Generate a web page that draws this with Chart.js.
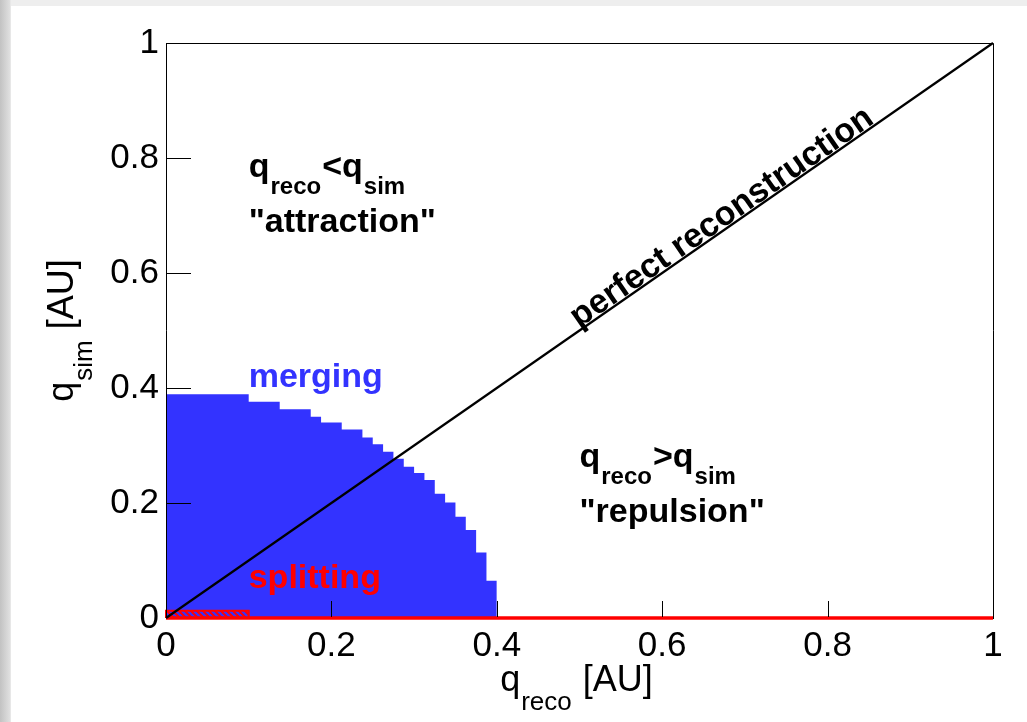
<!DOCTYPE html>
<html>
<head>
<meta charset="utf-8">
<script src="https://cdn.jsdelivr.net/npm/chart.js@4.4.1/dist/chart.umd.min.js"></script>
<style>
  html, body { margin: 0; padding: 0; width: 1027px; height: 722px; overflow: hidden;
    background: linear-gradient(to right, #c2c2c2 0px, #e0e0e0 10px, #eeeeee 11px, #eeeeee 100%); }
  #panel { position: absolute; left: 11px; top: 6px; right: 0; bottom: 0; background: #ffffff; }
  #c { position: absolute; left: 0; top: 0; }
</style>
</head>
<body>
<div id="panel"></div>
<canvas id="c" width="1027" height="722"></canvas>
<script>
// Axis tick labels
const xTickLabels = ['0', '0.2', '0.4', '0.6', '0.8', '1'];
const yTickLabels = ['0', '0.2', '0.4', '0.6', '0.8', '1'];

// "merging" region: bin edges along q_reco and the q_sim height of each step
const mergeEdges = [0, 0.1, 0.1375, 0.175, 0.1875, 0.2125, 0.2375, 0.25, 0.2625, 0.275,
                    0.2875, 0.3, 0.3125, 0.325, 0.3375, 0.35, 0.3625, 0.375, 0.3875, 0.4];
const mergeHeights = [0.389, 0.376, 0.363, 0.35, 0.34, 0.328, 0.314, 0.302, 0.289, 0.277,
                      0.263, 0.252, 0.24, 0.216, 0.201, 0.176, 0.153, 0.114, 0.065];

// "splitting" region: a thin band along q_sim = 0
const splitEdges = [0, 0.1];
const splitHeight = 0.0125;

// Reference lines
const diagX = [0, 1];
const diagY = [0, 1];
const baseX = [0, 1];
const baseY = [0, 0];

const BLUE = '#3333ff';
const RED = '#ff0000';
const FONT = '"Liberation Sans", Arial, Helvetica, sans-serif';

// Points of the stepped outline (value holds until the next edge)
const mergePoints = mergeEdges.map((x, i) => ({ x, y: i < mergeHeights.length ? mergeHeights[i] : 0 }));
const splitPoints = [
  { x: splitEdges[0], y: 0 }, { x: splitEdges[0], y: splitHeight },
  { x: splitEdges[1], y: splitHeight }, { x: splitEdges[1], y: 0 }
];
const diagPoints = diagX.map((x, i) => ({ x, y: diagY[i] }));
const basePoints = baseX.map((x, i) => ({ x, y: baseY[i] }));

// Red "\" hatch for the splitting band
const hatch = document.getElementById('c').getContext('2d').createPattern((() => {
  const t = document.createElement('canvas'); t.width = 6; t.height = 6;
  const g = t.getContext('2d');
  g.strokeStyle = RED; g.lineWidth = 2; g.beginPath();
  g.moveTo(-1, -1); g.lineTo(7, 7); g.moveTo(-7, -1); g.lineTo(1, 7); g.moveTo(5, -1); g.lineTo(13, 7);
  g.stroke(); return t;
})(), 'repeat');

// Text with subscripts: parts are [text, isSub]
function drawRich(ctx, parts, x, y, opt) {
  const mainFont = `${opt.weight} ${opt.size}px ${FONT}`;
  const subFont = `${opt.weight} ${opt.subSize}px ${FONT}`;
  let w = 0;
  parts.forEach(([t, sub]) => { ctx.font = sub ? subFont : mainFont; w += ctx.measureText(t).width + (sub ? 2 : 0); });
  let cx = opt.align === 'center' ? x - w / 2 : x;
  ctx.textAlign = 'left';
  ctx.textBaseline = 'alphabetic';
  ctx.fillStyle = opt.color;
  parts.forEach(([t, sub]) => {
    ctx.font = sub ? subFont : mainFont;
    if (sub) cx += 1;
    ctx.fillText(t, cx, y + (sub ? opt.subDy : 0));
    cx += ctx.measureText(t).width + (sub ? 1 : 0);
  });
}

const notes = [
  { lines: [[['q', 0], ['reco', 1], ['<q', 0], ['sim', 1]]], x: 0.1, y: 0.767 },
  { lines: [[['"attraction"', 0]]], x: 0.1, y: 0.672 },
  { lines: [[['q', 0], ['reco', 1], ['>q', 0], ['sim', 1]]], x: 0.5, y: 0.263 },
  { lines: [[['"repulsion"', 0]]], x: 0.5, y: 0.167 }
];

const framePlugin = {
  id: 'frame',
  beforeDatasetsDraw(chart) {
    // bottom edge of the frame sits under the red q_sim = 0 line
    const { ctx, chartArea: a } = chart;
    ctx.save();
    ctx.strokeStyle = '#000'; ctx.lineWidth = 1;
    ctx.beginPath();
    ctx.moveTo(Math.round(a.left), Math.round(a.bottom) + 0.5);
    ctx.lineTo(Math.round(a.right) + 1, Math.round(a.bottom) + 0.5);
    ctx.stroke();
    ctx.restore();
  },
  afterDatasetsDraw(chart) {
    const { ctx, chartArea: a, scales: { x, y } } = chart;
    ctx.save();
    // left, top and right edges of the frame
    const L = Math.round(a.left) + 0.5, R = Math.round(a.right) + 0.5;
    const T = Math.round(a.top) + 0.5, B = Math.round(a.bottom);
    ctx.strokeStyle = '#000'; ctx.lineWidth = 1;
    ctx.beginPath();
    ctx.moveTo(L, B); ctx.lineTo(L, T); ctx.lineTo(R, T); ctx.lineTo(R, B);
    // inward ticks
    x.ticks.forEach(t => {
      const px = Math.round(x.getPixelForValue(t.value)) + 0.5;
      ctx.moveTo(px, a.bottom - 1); ctx.lineTo(px, a.bottom - 17);
    });
    y.ticks.forEach(t => {
      const py = Math.round(y.getPixelForValue(t.value)) + 0.5;
      if (t.value === 0) return;
      ctx.moveTo(a.left, py); ctx.lineTo(a.left + 25, py);
    });
    ctx.stroke();

    // region labels
    const bold = { weight: 'bold', size: 34, subSize: 24, subDy: 17, color: '#000', align: 'left' };
    notes.forEach(n => {
      n.lines.forEach(parts => drawRich(ctx, parts, x.getPixelForValue(n.x), y.getPixelForValue(n.y), bold));
    });
    drawRich(ctx, [['merging', 0]], x.getPixelForValue(0.1), y.getPixelForValue(0.402),
             Object.assign({}, bold, { color: BLUE }));
    drawRich(ctx, [['splitting', 0]], x.getPixelForValue(0.1), y.getPixelForValue(0.052),
             Object.assign({}, bold, { color: RED }));

    // label along the diagonal
    const x0 = x.getPixelForValue(diagX[0]), y0 = y.getPixelForValue(diagY[0]);
    const x1 = x.getPixelForValue(diagX[1]), y1 = y.getPixelForValue(diagY[1]);
    const ang = Math.atan2(y1 - y0, x1 - x0);
    ctx.translate(x.getPixelForValue(0.68), y.getPixelForValue(0.68));
    ctx.rotate(ang);
    ctx.font = `bold 34px ${FONT}`;
    ctx.fillStyle = '#000';
    ctx.textAlign = 'center';
    ctx.textBaseline = 'alphabetic';
    ctx.fillText('perfect reconstruction', 0, -2);
    ctx.restore();

    // axis titles
    ctx.save();
    const reg = { weight: 'normal', size: 36, subSize: 26, subDy: 19, color: '#000', align: 'center' };
    drawRich(ctx, [['q', 0], ['reco', 1], [' [AU]', 0]], (a.left + a.right) / 2 - 3, 691, reg);
    ctx.translate(73, (a.top + a.bottom) / 2);
    ctx.rotate(-Math.PI / 2);
    drawRich(ctx, [['q', 0], ['sim', 1], [' [AU]', 0]], 0, 0, reg);
    ctx.restore();
  }
};

new Chart(document.getElementById('c'), {
  type: 'line',
  data: {
    datasets: [
      { data: mergePoints, stepped: 'before', fill: 'origin', backgroundColor: BLUE,
        borderWidth: 0, borderColor: BLUE, pointRadius: 0, order: 4 },
      { data: splitPoints, fill: 'origin', backgroundColor: hatch, borderColor: RED,
        borderWidth: 2, pointRadius: 0, order: 3, clip: 4 },
      { data: basePoints, borderColor: RED, borderWidth: 3.5, pointRadius: 0, fill: false, order: 2, clip: 4 },
      { data: diagPoints, borderColor: '#000', borderWidth: 2.2, pointRadius: 0, fill: false, order: 1, clip: 4 }
    ]
  },
  options: {
    responsive: false,
    animation: false,
    devicePixelRatio: 1,
    layout: { padding: { top: 43, right: 34, left: 0, bottom: 0 } },
    plugins: { legend: { display: false }, tooltip: { enabled: false } },
    elements: { line: { tension: 0 } },
    scales: {
      x: {
        type: 'linear', min: 0, max: 1,
        grid: { display: false, drawTicks: false },
        border: { display: false },
        ticks: { stepSize: 0.2, color: '#000', padding: 7, maxRotation: 0,
                 font: { family: FONT, size: 35 },
                 callback: (v, i) => xTickLabels[i] },
        afterFit: s => { s.height = 104; }
      },
      y: {
        type: 'linear', min: 0, max: 1,
        grid: { display: false, drawTicks: false },
        border: { display: false },
        ticks: { stepSize: 0.2, color: '#000', padding: 7,
                 font: { family: FONT, size: 35 },
                 callback: (v, i) => yTickLabels[i] },
        afterFit: s => { s.width = 166; }
      }
    }
  },
  plugins: [framePlugin]
});
</script>
</body>
</html>
